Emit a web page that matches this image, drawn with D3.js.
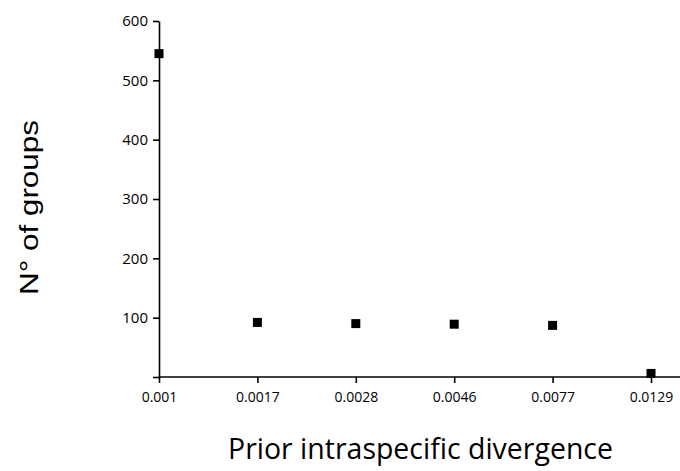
<!DOCTYPE html>
<html>
<head>
<meta charset="utf-8">
<script src="https://cdn.jsdelivr.net/npm/d3@7"></script>
<style>
  body { margin: 0; background: #fff; }
  svg { display: block; }
</style>
</head>
<body>
<div id="chart"></div>
<script>
const width = 680;
const height = 471;
const margin = { left: 159, right: 0, top: 21, bottom: 94 };

// divergence thresholds (category labels on the x axis)
const divergences = ["0.001", "0.0017", "0.0028", "0.0046", "0.0077", "0.0129"];
// number of groups found for each threshold
const groupCounts = [545, 92, 90, 89, 87, 6];
const yTicks = [0, 100, 200, 300, 400, 500, 600];

const data = divergences.map((d, i) => ({ div: d, n: groupCounts[i] }));

const svg = d3
  .select("#chart")
  .append("svg")
  .attr("width", width)
  .attr("height", height);

// even spacing, ~98px per step, axis runs off the right edge
const xScale = d3
  .scalePoint()
  .domain(divergences)
  .range([margin.left, 651]);

const yScale = d3
  .scaleLinear()
  .domain([0, 600])
  .range([height - margin.bottom, margin.top]);

const xAxis = d3.axisBottom(xScale).tickSize(6).tickPadding(9).tickSizeOuter(0);
const yAxis = d3
  .axisLeft(yScale)
  .tickValues(yTicks)
  .tickSize(6)
  .tickPadding(5)
  .tickFormat((d) => (d === 0 ? "" : d))
  .tickSizeOuter(0);

svg
  .append("g")
  .attr("class", "x-axis")
  .attr("transform", `translate(0, ${height - margin.bottom})`)
  .call(xAxis)
  .call((g) => g.select(".domain").attr("d", `M${margin.left},0H${width}`))
  .call((g) =>
    g
      .selectAll("text")
      .attr("font-family", "'Open Sans', sans-serif")
      .attr("font-size", 14)
      .attr("fill", "#000")
  );

svg
  .append("g")
  .attr("class", "y-axis")
  .attr("transform", `translate(${margin.left}, 0)`)
  .call(yAxis)
  .call((g) =>
    g
      .selectAll("text")
      .attr("font-family", "'Open Sans', sans-serif")
      .attr("font-size", 15)
      .attr("fill", "#000")
  );

svg.selectAll(".domain, .tick line").attr("stroke", "#000").attr("stroke-width", 1.6);

// square markers
const size = 9;
svg
  .append("g")
  .selectAll("rect")
  .data(data)
  .join("rect")
  .attr("x", (d) => xScale(d.div) - size / 2)
  .attr("y", (d) => yScale(d.n) - size / 2)
  .attr("width", size)
  .attr("height", size)
  .attr("fill", "#000");

svg
  .append("text")
  .attr("x", 228)
  .attr("y", 459)
  .attr("font-family", "'Open Sans', sans-serif")
  .attr("font-size", 29)
  .attr("textLength", 385)
  .attr("lengthAdjust", "spacingAndGlyphs")
  .text("Prior intraspecific divergence");

svg
  .append("text")
  .attr("transform", "translate(38, 295) rotate(-90)")
  .attr("font-family", "'Liberation Sans', Arial, sans-serif")
  .attr("font-size", 25)
  .attr("textLength", 175)
  .attr("lengthAdjust", "spacingAndGlyphs")
  .text("N° of groups");
</script>
</body>
</html>
